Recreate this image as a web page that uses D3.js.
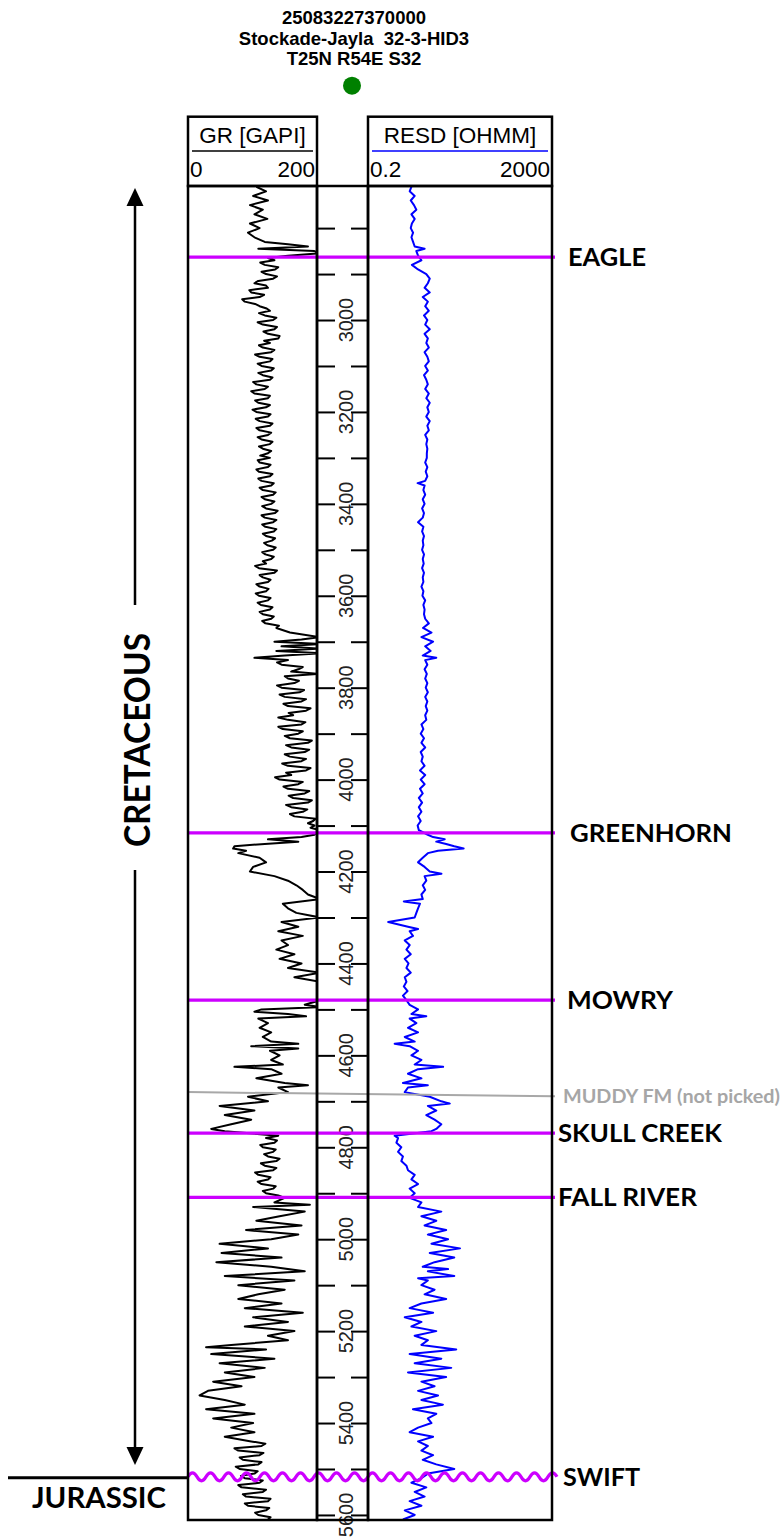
<!DOCTYPE html>
<html>
<head>
<meta charset="utf-8">
<script src="https://cdn.jsdelivr.net/npm/d3@7"></script>
<style>
    body { margin: 0; background: #fff; }
    svg { display: block; }
</style>
</head>
<body>
<div id="chart-container"></div>
<script>
//Well header
var wellHeader = ["25083227370000", "Stockade-Jayla  32-3-HID3", "T25N R54E S32"];

//Curve scales and depth window (ft)
var grScale = [0, 200];
var resdScale = [0.2, 2000];
var depthWindow = [2708.4, 5611];

//Depth track ticks
var depthLabels = [3000, 3200, 3400, 3600, 3800, 4000, 4200, 4400, 4600, 4800, 5000, 5200, 5400, 5600];
var depthTicks = [2800, 2900, 3000, 3100, 3200, 3300, 3400, 3500, 3600, 3700, 3800, 3900, 4000, 4100, 4200,
    4300, 4400, 4500, 4600, 4700, 4800, 4900, 5000, 5100, 5200, 5300, 5400, 5500, 5600];

//Formation tops
var topNames = ["EAGLE", "GREENHORN", "MOWRY", "SKULL CREEK", "FALL RIVER", "SWIFT"];
var topDepths = [2863, 4116, 4480, 4769, 4909, 5517];
var unconformities = ["SWIFT"];
var muddyName = "MUDDY FM (not picked)";
var muddyDepths = [4680, 4689];

//Gamma ray [depth, GAPI]
var grLog = [[2710,106],[2720,121],[2730,101],[2740,124],[2750,96],[2760,116],[2770,103],[2780,123],[2790,96],[2800,111],
    [2810,93],[2820,103],[2830,119],[2835,155],[2840,186],[2845,109],[2850,196],[2855,205],[2860,155],[2865,124],
    [2870,134],[2875,112],[2880,119],[2885,140],[2890,135],[2895,114],[2900,121],[2905,138],[2910,132],[2915,109],
    [2920,103],[2925,121],[2930,124],[2935,95],[2940,98],[2945,118],[2950,111],[2955,84],[2960,88],[2965,104],
    [2970,111],[2975,122],[2980,127],[2985,110],[2990,119],[2995,137],[3000,132],[3005,108],[3010,116],[3015,138],
    [3020,134],[3025,117],[3030,124],[3035,142],[3040,140],[3045,118],[3050,127],[3055,110],[3060,116],[3065,134],
    [3070,129],[3075,104],[3080,111],[3085,131],[3090,127],[3095,108],[3100,114],[3105,133],[3110,129],[3115,109],
    [3120,116],[3125,131],[3130,127],[3135,101],[3140,106],[3145,124],[3150,119],[3155,98],[3160,103],[3165,127],
    [3170,124],[3175,104],[3180,109],[3185,127],[3190,121],[3195,100],[3200,106],[3205,128],[3210,124],[3215,105],
    [3220,111],[3225,131],[3230,127],[3235,106],[3240,111],[3245,129],[3250,124],[3255,108],[3260,114],[3265,131],
    [3270,127],[3275,110],[3280,116],[3285,129],[3290,124],[3295,112],[3300,127],[3305,108],[3310,111],[3315,128],
    [3320,124],[3325,106],[3330,110],[3335,131],[3340,127],[3345,109],[3350,114],[3355,133],[3360,129],[3365,111],
    [3370,116],[3375,136],[3380,132],[3385,114],[3390,119],[3395,134],[3400,129],[3405,115],[3410,121],[3415,139],
    [3420,135],[3425,114],[3430,119],[3435,137],[3440,132],[3445,115],[3450,120],[3455,137],[3460,133],[3465,116],
    [3470,121],[3475,135],[3480,130],[3485,118],[3490,123],[3495,136],[3500,132],[3505,115],[3510,120],[3515,133],
    [3520,129],[3525,116],[3530,121],[3535,104],[3540,110],[3545,138],[3550,134],[3555,111],[3560,116],[3565,128],
    [3570,124],[3575,106],[3580,111],[3585,125],[3590,121],[3595,105],[3600,110],[3605,128],[3610,124],[3615,108],
    [3620,113],[3625,131],[3630,127],[3635,111],[3640,116],[3645,133],[3650,129],[3655,115],[3660,120],[3665,141],
    [3670,137],[3680,158],[3690,205],[3695,176],[3700,134],[3705,205],[3710,145],[3715,205],[3720,137],[3725,205],
    [3730,150],[3735,103],[3740,155],[3745,138],[3750,145],[3755,178],[3760,171],[3765,160],[3770,205],[3775,150],
    [3780,155],[3785,172],[3790,165],[3795,138],[3800,145],[3805,180],[3810,173],[3815,142],[3820,150],[3825,183],
    [3830,176],[3835,148],[3840,155],[3845,190],[3850,183],[3855,156],[3860,163],[3865,140],[3870,155],[3875,182],
    [3880,176],[3885,140],[3890,147],[3895,178],[3900,171],[3905,150],[3910,158],[3915,192],[3920,186],[3925,152],
    [3930,160],[3935,188],[3940,181],[3945,150],[3950,158],[3955,183],[3960,176],[3965,146],[3970,155],[3975,190],
    [3980,183],[3985,152],[3990,160],[3995,135],[4000,142],[4005,178],[4010,171],[4015,148],[4020,155],[4025,188],
    [4030,181],[4035,156],[4040,163],[4045,192],[4050,186],[4055,152],[4060,160],[4065,185],[4070,178],[4075,158],
    [4080,165],[4085,198],[4090,194],[4095,186],[4100,196],[4105,190],[4110,205],
    [4120,196],[4125,176],[4130,124],[4135,171],[4140,119],[4145,72],[4150,70],[4155,90],[4160,78],
    [4170,111],[4180,121],[4190,101],[4200,96],[4210,134],[4220,155],[4230,168],[4240,178],[4250,186],[4260,205],
    [4270,147],[4280,155],[4290,168],[4300,205],[4310,145],[4320,171],[4330,140],[4340,178],[4350,145],[4360,155],
    [4370,137],[4380,165],[4390,142],[4400,176],[4410,155],[4420,205],[4430,165],[4440,205],[4450,205],[4460,205],
    [4470,205],[4480,205],[4490,181],[4495,205],[4500,114],[4505,103],[4510,155],[4515,183],[4520,109],[4530,124],
    [4540,111],[4550,129],[4560,116],[4570,129],[4575,171],[4580,98],[4585,171],[4590,127],[4600,142],[4610,129],
    [4620,147],[4625,72],[4630,129],[4640,145],[4650,106],[4660,150],[4665,186],[4670,140],[4680,155],[4690,93],
    [4700,124],[4710,49],[4720,103],[4730,57],[4740,98],[4750,67],[4760,36],[4765,57],
    [4775,140],[4780,121],[4785,138],[4790,134],[4795,112],[4800,116],[4805,136],[4810,132],[4815,118],[4820,124],
    [4825,142],[4830,137],[4835,113],[4840,119],[4845,137],[4850,132],[4855,104],[4860,109],[4865,128],[4870,124],
    [4875,108],[4880,114],[4885,136],[4890,132],[4895,116],[4900,121],[4905,140],[4910,150],
    [4920,134],[4925,189],[4930,101],[4940,181],[4950,142],[4960,106],[4970,176],
    [4980,90],[4990,171],[5000,129],[5010,49],[5020,124],[5030,52],[5040,145],[5050,44],[5060,129],[5070,181],
    [5080,57],[5090,165],[5100,78],[5110,150],[5120,109],[5130,78],[5140,145],[5150,88],[5160,178],[5170,101],
    [5180,155],[5190,88],[5200,165],[5210,124],[5220,155],[5230,67],[5235,28],[5240,121],[5250,36],[5260,134],
    [5270,49],[5280,119],[5290,57],[5300,103],[5310,39],[5320,83],[5330,31],[5340,18],[5350,57],[5360,88],
    [5370,28],[5380,103],[5390,39],[5400,101],[5410,67],[5420,103],[5430,57],
    [5440,98],[5445,120],[5450,114],[5455,72],[5460,78],[5465,117],[5470,111],[5475,80],[5480,85],[5485,114],
    [5490,109],[5495,74],[5500,80],[5505,108],[5510,103],[5515,82],[5520,88],[5525,116],[5530,111],[5535,78],
    [5540,83],[5545,121],[5550,116],[5555,85],[5560,90],[5565,128],[5570,124],[5575,88],[5580,93],[5585,126],
    [5590,121],[5595,104],[5600,109],[5605,128],[5610,124]];

//Deep resistivity [depth, OHMM]
var resdLog = [[2710,1.76],[2720,1.61],[2730,2.07],[2740,1.7],[2750,2.0],[2760,2.25],[2770,1.76],[2780,2.07],[2790,1.8],[2800,1.7],
    [2810,1.91],[2820,1.76],[2830,1.91],[2840,2.07],[2845,3.4],[2850,2.25],[2860,2.45],[2870,2.9],[2880,1.8],[2890,2.45],
    [2900,3.7],[2910,4.4],[2920,4.0],[2930,3.4],[2940,4.4],[2950,3.1],[2960,4.0],[2970,3.5],[2980,4.2],[2990,3.3],
    [3000,3.9],[3010,3.5],[3020,4.4],[3030,3.4],[3040,4.0],[3050,3.7],[3060,4.2],[3070,3.4],[3080,3.9],[3090,4.2],
    [3100,3.5],[3110,4.0],[3120,3.3],[3130,3.7],[3140,4.0],[3150,3.5],[3160,4.2],[3170,3.7],[3180,4.4],[3190,3.9],
    [3200,4.2],[3210,3.7],[3220,4.4],[3230,3.9],[3240,4.2],[3250,3.5],[3260,3.9],[3270,3.7],[3280,3.9],[3290,3.8],
    [3300,3.8],[3310,3.5],[3320,3.9],[3330,3.6],[3340,3.9],[3350,3.5],[3355,2.4],[3360,3.4],[3370,3.2],[3380,3.5],
    [3390,3.1],[3400,3.4],[3410,3.0],[3420,3.3],[3430,3.1],[3440,2.45],[3450,3.2],[3460,3.0],[3470,3.3],[3480,3.1],
    [3490,3.2],[3500,3.0],[3510,3.3],[3520,3.1],[3530,3.25],[3540,3.0],[3550,3.3],[3560,3.1],[3570,3.2],[3580,2.9],
    [3590,3.2],[3600,3.05],[3610,3.5],[3620,3.2],[3630,3.4],[3640,3.3],[3650,3.5],[3660,4.2],[3670,3.14],[3680,4.8],
    [3690,2.9],[3700,5.2],[3710,3.5],[3720,4.6],[3730,3.1],[3735,6.1],[3740,3.5],[3750,3.9],[3760,3.4],[3770,3.8],
    [3780,3.5],[3790,3.9],[3800,3.6],[3810,4.0],[3820,3.5],[3830,3.9],[3840,3.6],[3850,3.9],[3860,3.5],[3870,3.7],
    [3880,2.9],[3890,3.2],[3900,2.8],[3910,3.3],[3920,2.9],[3930,3.5],[3940,2.8],[3950,3.1],[3960,2.9],[3970,3.4],
    [3980,2.7],[3990,3.5],[4000,2.8],[4010,3.4],[4020,2.7],[4030,3.1],[4040,2.55],[4050,3.0],[4060,2.55],[4070,2.9],
    [4080,2.45],[4090,2.8],[4100,2.4],[4110,2.55],[4120,4.0],[4125,5.2],[4130,9.3],[4135,6.1],[4140,10],[4145,15],
    [4150,24],[4155,6.65],[4160,4.0],[4170,3.1],[4180,2.45],[4190,3.4],[4200,4.4],[4205,7.9],[4210,3.4],[4220,3.7],
    [4230,3.1],[4240,3.5],[4250,2.9],[4260,3.1],[4265,1.2],[4270,2.7],[4280,2.45],[4290,2.25],[4300,2.07],[4310,0.55],
    [4320,1.48],[4325,2.45],[4330,1.61],[4340,1.9],[4350,1.26],[4360,1.61],[4370,1.37],[4380,1.7],[4390,1.26],[4400,1.52],
    [4410,1.37],[4420,1.7],[4430,1.26],[4440,1.37],[4450,1.2],[4460,1.45],[4470,1.15],[4480,1.37],[4490,1.61],[4500,2.45],
    [4510,1.76],[4515,3.7],[4520,1.61],[4530,2.25],[4540,1.48],[4550,2.45],[4560,1.26],[4570,2.07],[4575,0.76],[4580,1.61],
    [4590,2.45],[4600,1.76],[4610,2.9],[4620,2.07],[4625,8.6],[4630,2.45],[4640,1.48],[4650,2.9],[4660,1.15],[4665,4.0],
    [4670,1.48],[4680,1.26],[4690,4.4],[4700,7.85],[4705,12],[4710,4.0],[4720,6.1],[4730,3.7],[4740,5.6],[4750,7.85],
    [4760,6.1],[4765,4.8],[4775,0.76],[4780,0.9],[4790,0.83],[4800,1.06],[4810,0.9],[4820,1.15],[4830,1.06],[4840,1.37],
    [4850,1.48],[4860,2.07],[4870,1.76],[4880,2.45],[4890,1.61],[4900,2.07],[4910,1.61],[4920,2.9],[4930,2.45],[4940,7.85],
    [4950,2.9],[4960,6.1],[4970,3.4],[4980,10],[4990,4.0],[5000,11],[5010,4.8],[5020,20],[5030,4.4],[5040,15],
    [5050,5.6],[5060,3.1],[5065,11],[5070,4.0],[5080,15],[5085,2.45],[5090,4.0],[5100,2.9],[5110,5.6],[5120,3.4],
    [5130,10],[5140,2.9],[5150,1.61],[5160,5.2],[5170,1.26],[5180,2.9],[5190,1.76],[5200,6.1],[5210,2.07],[5220,4.0],
    [5230,2.9],[5240,16.6],[5250,1.61],[5260,7.85],[5270,2.07],[5280,12.9],[5290,1.48],[5300,10],[5310,2.9],[5320,5.6],
    [5330,2.45],[5340,6.65],[5350,2.9],[5360,8.5],[5370,1.9],[5380,6.1],[5390,4.0],[5400,4.8],[5410,2.45],[5420,1.61],
    [5430,5.2],[5440,2.45],[5450,4.0],[5460,2.9],[5470,5.2],[5480,3.1],[5490,6.1],[5500,15],[5510,4.0],[5520,2.9],
    [5530,1.76],[5540,3.7],[5550,2.07],[5560,3.4],[5570,1.61],[5580,2.9],[5590,1.26],[5600,2.07],[5610,1.15]];

//Layout
var w = 783;
var h = 1540;
var trackTop = 186, trackBottom = 1520;
var grL = 188, grR = 317;
var resL = 368, resR = 552;
var headTop = 116.7;
var magenta = "#cc00ff";
var labelFont = "Lato, 'Open Sans', sans-serif";
var arialFont = "'Liberation Sans', Arial, sans-serif";

//Label placement for the formation names
var labelX = {"EAGLE": 568, "GREENHORN": 570, "MOWRY": 567, "SKULL CREEK": 558, "FALL RIVER": 558, "SWIFT": 563};
var labelW = {"EAGLE": 78, "GREENHORN": 162, "MOWRY": 106, "SKULL CREEK": 164, "FALL RIVER": 139, "SWIFT": 77};

//Scales
var yScale = d3.scaleLinear().domain(depthWindow).range([trackTop, trackBottom]);
var grX = d3.scaleLinear().domain(grScale).range([grL, grR]);
var resX = d3.scaleLog().domain(resdScale).range([resL, resR]);

var svg = d3.select("#chart-container").append("svg")
    .attr("width", w).attr("height", h);

//Well header
svg.selectAll(".well-head")
    .data(wellHeader)
    .enter()
    .append("text")
    .attr("class", "well-head")
    .attr("x", 354)
    .attr("y", function(d, i){ return 24 + i * 20.7; })
    .attr("text-anchor", "middle")
    .style("font-family", arialFont)
    .style("font-weight", "bold")
    .style("font-size", "18.5px")
    .style("white-space", "pre")
    .text(function(d){ return d; });

svg.append("circle")
    .attr("cx", 352).attr("cy", 85.7).attr("r", 9)
    .attr("fill", "#008000");

//Clip paths for the two curve tracks
var defs = svg.append("defs");
defs.append("clipPath").attr("id", "clip-gr")
    .append("rect").attr("x", grL).attr("y", trackTop).attr("width", grR - grL).attr("height", trackBottom - trackTop);
defs.append("clipPath").attr("id", "clip-res")
    .append("rect").attr("x", resL).attr("y", trackTop).attr("width", resR - resL).attr("height", trackBottom - trackTop);

//Curves
var grLine = d3.line()
    .x(function(d){ return grX(d[1]); })
    .y(function(d){ return yScale(d[0]); });

var resLine = d3.line()
    .x(function(d){ return resX(d[1]); })
    .y(function(d){ return yScale(d[0]); });

svg.append("path")
    .datum(grLog)
    .attr("clip-path", "url(#clip-gr)")
    .attr("d", grLine)
    .attr("fill", "none")
    .attr("stroke", "#000")
    .attr("stroke-width", 2)
    .attr("stroke-linejoin", "round");

svg.append("path")
    .datum(resdLog)
    .attr("clip-path", "url(#clip-res)")
    .attr("d", resLine)
    .attr("fill", "none")
    .attr("stroke", "#0000ff")
    .attr("stroke-width", 2)
    .attr("stroke-linejoin", "round");

//Depth track ticks, both sides
var leftTicks = d3.axisRight(yScale).tickValues(depthTicks).tickSize(18).tickFormat("");
var rightTicks = d3.axisLeft(yScale).tickValues(depthTicks).tickSize(17).tickFormat("");

svg.append("g")
    .attr("class", "depth-left")
    .attr("transform", "translate(" + grR + ",0)")
    .call(leftTicks);
svg.append("g")
    .attr("class", "depth-right")
    .attr("transform", "translate(" + resL + ",0)")
    .call(rightTicks);
svg.selectAll(".depth-left .domain, .depth-right .domain").remove();
svg.selectAll(".depth-left line, .depth-right line")
    .attr("stroke", "#000")
    .attr("stroke-width", 2);

svg.selectAll(".depth-label")
    .data(depthLabels)
    .enter()
    .append("text")
    .attr("class", "depth-label")
    .attr("transform", function(d){ return "translate(353," + yScale(d) + ") rotate(-90)"; })
    .attr("text-anchor", "middle")
    .style("font-family", arialFont)
    .style("font-size", "20px")
    .attr("fill", "#222")
    .text(function(d){ return d; });

//Muddy (not picked)
svg.append("line")
    .attr("x1", grL).attr("x2", 555)
    .attr("y1", yScale(muddyDepths[0])).attr("y2", yScale(muddyDepths[1]))
    .attr("stroke", "#a8a8a8")
    .attr("stroke-width", 2);

svg.append("text")
    .attr("x", 563)
    .attr("y", yScale(muddyDepths[1]) + 6.5)
    .attr("textLength", 217)
    .attr("lengthAdjust", "spacingAndGlyphs")
    .style("font-family", labelFont)
    .style("font-weight", "bold")
    .style("font-size", "18.5px")
    .attr("fill", "#a6a6a6")
    .text(muddyName);

//Formation tops
var tops = topNames.map(function(n, i){ return {name: n, depth: topDepths[i]}; });

var wave = function(yy){
    var p = "M" + grL + "," + yy;
    for (var i = 0; i < 41; i++) {
        p += (i === 0) ? " q4.5,-8 9,0" : " t9,0";
    }
    return p;
};

svg.selectAll(".top-line")
    .data(tops)
    .enter()
    .append("path")
    .attr("class", "top-line")
    .attr("d", function(d){
        var yy = yScale(d.depth);
        if (unconformities.indexOf(d.name) >= 0) return wave(yy);
        return "M" + grL + "," + yy + "H555";
    })
    .attr("fill", "none")
    .attr("stroke", magenta)
    .attr("stroke-width", 3.3);

svg.selectAll(".top-label")
    .data(tops)
    .enter()
    .append("text")
    .attr("class", "top-label")
    .attr("x", function(d){ return labelX[d.name]; })
    .attr("y", function(d){ return yScale(d.depth) + 8.8; })
    .attr("textLength", function(d){ return labelW[d.name]; })
    .attr("lengthAdjust", "spacingAndGlyphs")
    .style("font-family", labelFont)
    .style("font-weight", "bold")
    .style("font-size", "25px")
    .attr("fill", "#000")
    .text(function(d){ return d.name; });

//Track frames
var frame = svg.append("g").attr("fill", "none").attr("stroke", "#000").attr("stroke-width", 2.5);
frame.append("rect").attr("x", grL).attr("y", trackTop).attr("width", grR - grL).attr("height", trackBottom - trackTop);
frame.append("rect").attr("x", grR).attr("y", trackTop).attr("width", resL - grR).attr("height", trackBottom - trackTop);
frame.append("rect").attr("x", resL).attr("y", trackTop).attr("width", resR - resL).attr("height", trackBottom - trackTop);
frame.append("rect").attr("x", grL).attr("y", headTop).attr("width", grR - grL).attr("height", trackTop - headTop);
frame.append("rect").attr("x", resL).attr("y", headTop).attr("width", resR - resL).attr("height", trackTop - headTop);

//Track headers
var headers = [
    {title: "GR [GAPI]", l: grL, r: grR, color: "#000", lo: grScale[0], hi: grScale[1]},
    {title: "RESD [OHMM]", l: resL, r: resR, color: "#0000ff", lo: resdScale[0], hi: resdScale[1]}
];

headers.forEach(function(hd){
    svg.append("text")
        .attr("x", (hd.l + hd.r) / 2)
        .attr("y", 143)
        .attr("text-anchor", "middle")
        .style("font-family", arialFont)
        .style("font-size", "22.5px")
        .text(hd.title);
    svg.append("line")
        .attr("x1", hd.l + 4).attr("x2", hd.r - 4)
        .attr("y1", 151).attr("y2", 151)
        .attr("stroke", hd.color)
        .attr("stroke-width", 1.5);
    svg.append("text")
        .attr("x", hd.l + 2)
        .attr("y", 177)
        .style("font-family", arialFont)
        .style("font-size", "22.5px")
        .text(hd.lo);
    svg.append("text")
        .attr("x", hd.r - 2)
        .attr("y", 177)
        .attr("text-anchor", "end")
        .style("font-family", arialFont)
        .style("font-size", "22.5px")
        .text(hd.hi);
});

//Cretaceous arrow
var ax = 135;
var arrow = svg.append("g");
arrow.append("line").attr("x1", ax).attr("x2", ax).attr("y1", 204).attr("y2", 605)
    .attr("stroke", "#000").attr("stroke-width", 2.5);
arrow.append("line").attr("x1", ax).attr("x2", ax).attr("y1", 870).attr("y2", 1450)
    .attr("stroke", "#000").attr("stroke-width", 2.5);
arrow.append("path").attr("d", "M" + ax + ",188 L" + (ax - 8.5) + ",206 L" + (ax + 8.5) + ",206 Z").attr("fill", "#000");
arrow.append("path").attr("d", "M" + ax + ",1465 L" + (ax - 8.5) + ",1447 L" + (ax + 8.5) + ",1447 Z").attr("fill", "#000");

svg.append("text")
    .attr("transform", "translate(150,740) rotate(-90)")
    .attr("text-anchor", "middle")
    .attr("textLength", 214)
    .attr("lengthAdjust", "spacingAndGlyphs")
    .style("font-family", labelFont)
    .style("font-weight", "bold")
    .style("font-size", "37px")
    .text("CRETACEOUS");

//Jurassic boundary
svg.append("line")
    .attr("x1", 8).attr("x2", grL)
    .attr("y1", yScale(topDepths[5]) + 1).attr("y2", yScale(topDepths[5]) + 1)
    .attr("stroke", "#000").attr("stroke-width", 3);

svg.append("text")
    .attr("x", 32)
    .attr("y", 1508)
    .attr("textLength", 134)
    .attr("lengthAdjust", "spacingAndGlyphs")
    .style("font-family", labelFont)
    .style("font-weight", "bold")
    .style("font-size", "28px")
    .text("JURASSIC");
</script>
</body>
</html>
